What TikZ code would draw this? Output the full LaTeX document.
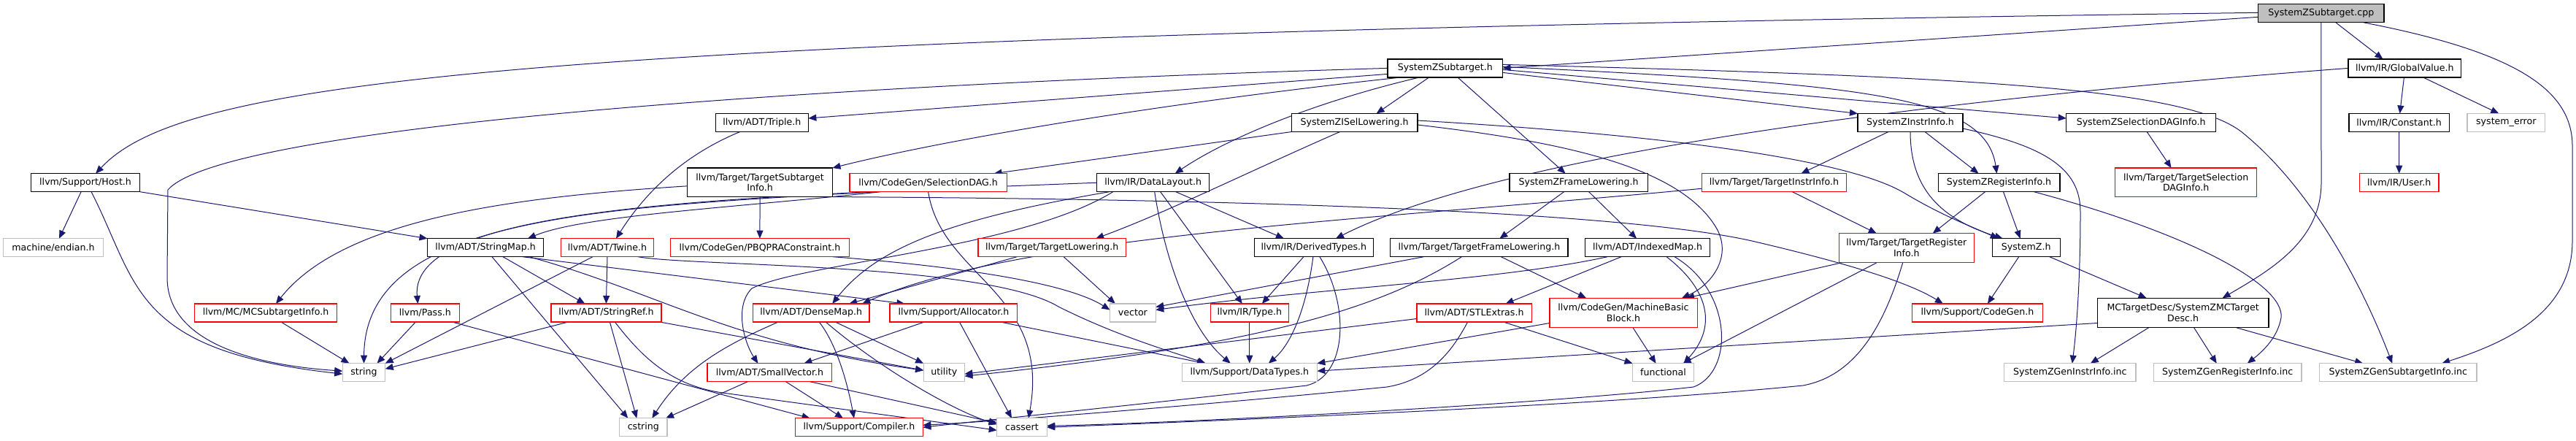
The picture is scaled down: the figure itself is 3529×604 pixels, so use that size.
\documentclass[tikz,border=0pt]{standalone}
\usepackage{fontspec}
\setmainfont{DejaVu Sans}
\usetikzlibrary{arrows.meta}
\definecolor{edgeblue}{HTML}{191970}
\definecolor{grayborder}{HTML}{BFBFBF}
\newcommand\dxfont{\fontsize{12.6bp}{14.6bp}\selectfont}
\pgfdeclarelayer{bg}
\pgfsetlayers{bg,main}
\begin{document}
\begin{tikzpicture}[x=1bp,y=-1bp,
  box/.style={rectangle, inner sep=0pt, outer sep=0pt, minimum height=25bp, line width=1.25bp, font=\dxfont, align=center, fill=white},
  blk/.style={box, draw=black},
  rbox/.style={box, draw=red},
  gbox/.style={box, draw=grayborder},
  dep/.style={draw=edgeblue, line width=1bp, -{Triangle[length=11bp,width=9bp]}}
]
\useasboundingbox (0,0) rectangle (3529,604);
% row 0
\node[blk, fill={rgb,255:red,191;green,191;blue,191}, minimum width=172.2bp] (cpp) at (3179.8,18.3) {SystemZSubtarget.cpp};
% row 1
\node[blk, minimum width=157.5bp] (szst) at (1979.8,93.4) {SystemZSubtarget.h};
\node[blk, minimum width=154.8bp] (gv) at (3294.4,93.4) {llvm/IR/GlobalValue.h};
% row 2
\node[blk, minimum width=127.1bp] (triple) at (1043.8,168) {llvm/ADT/Triple.h};
\node[blk, minimum width=172.5bp] (isel) at (1855.6,168) {SystemZISelLowering.h};
\node[blk, minimum width=144.1bp] (instr) at (2617,168) {SystemZInstrInfo.h};
\node[blk, minimum width=204.8bp] (seldaginfo) at (2933.2,168) {SystemZSelectionDAGInfo.h};
\node[blk, minimum width=137.5bp] (constant) at (3286.6,168) {llvm/IR/Constant.h};
\node[gbox, minimum width=106.7bp] (syserr) at (3433.3,168) {system\_error};
% row 3
\node[blk, minimum width=149.4bp] (host) at (117.1,250.2) {llvm/Support/Host.h};
\node[blk, minimum width=198.8bp, minimum height=39.6bp] (tsi) at (1041.1,249.8) {llvm/Target/TargetSubtarget\\Info.h};
\node[rbox, minimum width=215.2bp] (seldag) at (1271.6,250.2) {llvm/CodeGen/SelectionDAG.h};
\node[blk, minimum width=153.7bp] (dl) at (1579.7,250.2) {llvm/IR/DataLayout.h};
\node[blk, minimum width=189.5bp] (frame) at (2162.6,250.2) {SystemZFrameLowering.h};
\node[rbox, minimum width=197.5bp] (tii) at (2430.4,250.2) {llvm/Target/TargetInstrInfo.h};
\node[blk, minimum width=166.8bp] (reginfo) at (2738.5,250.2) {SystemZRegisterInfo.h};
\node[rbox, minimum width=193.6bp, minimum height=39.6bp] (tsdi) at (2994.6,249.8) {llvm/Target/TargetSelection\\DAGInfo.h};
\node[rbox, minimum width=108.6bp] (user) at (3286.7,250.2) {llvm/IR/User.h};
% row 4
\node[gbox, minimum width=136.8bp] (endian) at (73,339.2) {machine/endian.h};
\node[blk, minimum width=159bp] (smap) at (665,339.2) {llvm/ADT/StringMap.h};
\node[rbox, minimum width=127.1bp] (twine) at (832,339.2) {llvm/ADT/Twine.h};
\node[rbox, minimum width=244.6bp] (pbqp) at (1040.9,339.2) {llvm/CodeGen/PBQPRAConstraint.h};
\node[rbox, minimum width=202.6bp] (tl) at (1441.2,339.2) {llvm/Target/TargetLowering.h};
\node[blk, minimum width=162.8bp] (dt) at (1799.9,339.2) {llvm/IR/DerivedTypes.h};
\node[blk, minimum width=243.1bp] (tfl) at (2026.4,339.2) {llvm/Target/TargetFrameLowering.h};
\node[blk, minimum width=171.4bp] (imap) at (2257.1,339.2) {llvm/ADT/IndexedMap.h};
\node[rbox, minimum width=185.3bp, minimum height=39.7bp] (tri) at (2611.8,339.5) {llvm/Target/TargetRegister\\Info.h};
\node[blk, minimum width=93.2bp] (sz) at (2775.7,339.2) {SystemZ.h};
% row 5
\node[rbox, minimum width=194.9bp] (mcsti) at (364,428.5) {llvm/MC/MCSubtargetInfo.h};
\node[rbox, minimum width=93.9bp] (pass) at (582.4,428.5) {llvm/Pass.h};
\node[rbox, minimum width=151bp] (sref) at (830.4,428.5) {llvm/ADT/StringRef.h};
\node[rbox, minimum width=159.5bp] (dmap) at (1111.2,428.5) {llvm/ADT/DenseMap.h};
\node[rbox, minimum width=174.9bp] (alloc) at (1306.4,428.5) {llvm/Support/Allocator.h};
\node[gbox, minimum width=62.8bp] (vector) at (1551.9,428.5) {vector};
\node[rbox, minimum width=106.8bp] (type) at (1711.8,428.5) {llvm/IR/Type.h};
\node[rbox, minimum width=157.2bp] (stle) at (2019.6,428.5) {llvm/ADT/STLExtras.h};
\node[rbox, minimum width=202.2bp, minimum height=40.5bp] (mbb) at (2224,428.5) {llvm/CodeGen/MachineBasic\\Block.h};
\node[rbox, minimum width=179.1bp] (cg) at (2708.9,428.5) {llvm/Support/CodeGen.h};
\node[blk, minimum width=234.9bp, minimum height=40.5bp] (mctd) at (2990.6,428.5) {MCTargetDesc/SystemZMCTarget\\Desc.h};
% row 6
\node[gbox, minimum width=58.5bp] (string) at (498.5,510.2) {string};
\node[rbox, minimum width=170.7bp] (svec) at (1054.4,510.2) {llvm/ADT/SmallVector.h};
\node[gbox, minimum width=56.3bp] (utility) at (1293.3,510.2) {utility};
\node[gbox, minimum width=185.1bp] (dtypes) at (1711.8,510.2) {llvm/Support/DataTypes.h};
\node[gbox, minimum width=84bp] (functional) at (2278.5,510.2) {functional};
\node[gbox, minimum width=180.3bp] (geninstr) at (2835.8,510.2) {SystemZGenInstrInfo.inc};
\node[gbox, minimum width=202.6bp] (genreg) at (3051.7,510.2) {SystemZGenRegisterInfo.inc};
\node[gbox, minimum width=215.7bp] (gensub) at (3285.2,510.2) {SystemZGenSubtargetInfo.inc};
% row 7
\node[gbox, minimum width=65.5bp] (cstring) at (881.3,585.3) {cstring};
\node[rbox, minimum width=174.8bp] (compiler) at (1177,585.3) {llvm/Support/Compiler.h};
\node[gbox, minimum width=68.6bp] (cassert) at (1400,585.3) {cassert};

\begin{pgfonlayer}{bg}
\fill[white] (0,0) rectangle (3529,604);
% cpp
\draw[dep] ([yshift=-5bp]cpp.west) -- (szst.east);
\draw[dep] ([yshift=1bp]cpp.west) .. controls (700,50) and (250,110) .. ([xshift=14bp]host.north);
\draw[dep] ([xshift=20bp]cpp.south) -- ([xshift=-30bp]gv.north);
\draw[dep] (cpp.south) -- (3180,250) .. controls (3180,330) and (3110,370) .. ([xshift=54bp]mctd.north);
\draw[dep] ([xshift=58bp]cpp.south) .. controls (3440,70) and (3524,120) .. (3524,200) -- (3524,330) .. controls (3524,430) and (3430,470) .. ([xshift=60bp]gensub.north);
% SystemZSubtarget.h
\draw[dep] ([yshift=-8bp]szst.west) -- ([yshift=6bp]triple.east);
\draw[dep] ([xshift=-60bp]szst.south) .. controls (1600,140) and (1300,190) .. (tsi.north east);
\draw[dep] (szst.west) .. controls (1000,120) and (300,180) .. (230,260) -- (229,380) .. controls (229,470) and (350,500) .. ([yshift=2bp]string.west);
\draw[dep] ([xshift=-35bp]szst.south) .. controls (1800,140) and (1680,190) .. ([xshift=30bp]dl.north);
\draw[dep] ([xshift=-22bp]szst.south) -- ([xshift=30bp]isel.north);
\draw[dep] ([xshift=17bp]szst.south) -- ([xshift=-18bp]frame.north);
\draw[dep] ([yshift=-6bp]szst.east) -- (instr.north west);
\draw[dep] ([yshift=-2bp]szst.east) -- ([yshift=6bp]seldaginfo.west);
\draw[dep] ([yshift=2bp]szst.east) .. controls (2550,115) and (2720,130) .. ([xshift=-3bp]reginfo.north);
\draw[dep] ([yshift=5bp]szst.east) .. controls (2700,105) and (2990,120) .. (3070,180) .. controls (3170,260) and (3240,400) .. ([xshift=-8bp]gensub.north);
% GlobalValue
\draw[dep] (gv.west) .. controls (2600,140) and (2050,215) .. ([xshift=30bp]dt.north);
\draw[dep] ([xshift=-1bp]gv.south) -- ([xshift=1bp]constant.north);
\draw[dep] ([xshift=25bp]gv.south) -- ([xshift=-10bp]syserr.north);
\draw[dep] (constant) -- (user);
% Host
\draw[dep] ([xshift=-6bp]host.south) -- ([xshift=8bp]endian.north);
\draw[dep] ([xshift=8bp]host.south) .. controls (190,390) and (180,480) .. ([yshift=-2bp]string.west);
\draw[dep] (host.south east) -- (smap.north west);
% Triple
\draw[dep] ([xshift=-30bp]triple.south) .. controls (930,215) and (880,270) .. ([xshift=12bp]twine.north);
% TargetSubtargetInfo
\draw[dep] ([yshift=-5bp]tsi.west) .. controls (700,270) and (470,300) .. ([xshift=14bp]mcsti.north);
\draw[dep] (tsi) -- (pbqp);
\draw[dep] (tsi.south east) .. controls (1600,272) and (2200,285) .. (2400,330) .. controls (2550,365) and (2620,390) .. ([xshift=-47bp]cg.north);
% SelectionDAG
\draw[dep] ([xshift=-65bp]seldag.south) .. controls (1000,285) and (800,295) .. ([xshift=58bp]smap.north);
\draw[dep] ([xshift=-70bp]seldag.south) .. controls (800,285) and (500,300) .. (string.north);
\draw[dep] (seldag.south) .. controls (1290,380) and (1440,400) .. ([xshift=9bp]cassert.north);
% DataLayout
\draw[dep] (dl.west) .. controls (1000,270) and (560,280) .. ([xshift=-10bp]pass.north);
\draw[dep] ([xshift=-60bp]dl.south) .. controls (1300,300) and (1200,340) .. ([xshift=29bp]dmap.north);
\draw[dep] ([xshift=-55bp]dl.south) .. controls (1400,340) and (1100,360) .. (1030,395) .. controls (1005,420) and (1020,470) .. ([xshift=-16bp]svec.north);
\draw[dep] ([xshift=31bp]dl.south) -- ([xshift=-41bp]dt.north);
\draw[dep] ([xshift=10bp]dl.south) -- ([xshift=-10bp]type.north);
\draw[dep] ([xshift=2bp]dl.south) .. controls (1600,380) and (1640,460) .. ([xshift=-26bp]dtypes.north);
% ISelLowering
\draw[dep] (isel.south west) -- ([xshift=90bp]seldag.north);
\draw[dep] ([xshift=-20bp]isel.south) .. controls (1700,240) and (1600,290) .. ([xshift=60bp]tl.north);
\draw[dep] ([yshift=3bp]isel.east) .. controls (2200,180) and (2520,210) .. (2610,265) .. controls (2660,295) and (2700,310) .. ([xshift=-38bp]sz.north);
\draw[dep] ([yshift=-3bp]isel.east) .. controls (2150,195) and (2300,230) .. (2350,310) .. controls (2375,350) and (2345,390) .. ([xshift=80bp]mbb.north);
% FrameLowering
\draw[dep] ([xshift=-20bp]frame.south) -- ([xshift=28bp]tfl.north);
\draw[dep] ([xshift=14bp]frame.south) -- ([xshift=-15bp]imap.north);
% TargetInstrInfo
\draw[dep] ([yshift=-8bp]tii.west) .. controls (1900,300) and (1400,320) .. ([xshift=70bp]dmap.north);
\draw[dep] ([xshift=25bp]tii.south) -- ([xshift=-41bp]tri.north);
% RegisterInfo
\draw[dep] ([xshift=-19bp]reginfo.south) -- ([xshift=36bp]tri.north);
\draw[dep] ([xshift=6bp]reginfo.south) -- ([xshift=-8bp]sz.north);
\draw[dep] ([xshift=48bp]reginfo.south) .. controls (3000,320) and (3130,390) .. (3125,435) .. controls (3120,465) and (3095,485) .. ([xshift=27bp]genreg.north);
% InstrInfo
\draw[dep] ([xshift=-30bp]instr.south) -- ([xshift=37bp]tii.north);
\draw[dep] ([xshift=20bp]instr.south) -- ([xshift=-28bp]reginfo.north);
\draw[dep] (instr.south) .. controls (2617,260) and (2660,300) .. ([xshift=-32bp]sz.north);
\draw[dep] ([yshift=-8bp]instr.east) .. controls (2800,200) and (2850,230) .. (2850,290) .. controls (2850,380) and (2845,450) .. ([xshift=3bp]geninstr.north);
% SelectionDAGInfo
\draw[dep] ([xshift=8bp]seldaginfo.south) -- ([xshift=-20bp]tsdi.north);
% TargetRegisterInfo
\draw[dep] ([xshift=-87bp]tri.south) -- ([xshift=-15bp]mbb.north east);
\draw[dep] ([xshift=-40bp]tri.south) -- ([xshift=27bp]functional.north);
\draw[dep] ([xshift=-5bp]tri.south) .. controls (2580,450) and (2540,515) .. (2470,528) .. controls (2200,555) and (1700,575) .. (cassert.east);
% SystemZ.h
\draw[dep] ([xshift=-10bp]sz.south) -- ([xshift=14bp]cg.north);
\draw[dep] ([xshift=32bp]sz.south) -- ([xshift=-50bp]mctd.north);
% MCTargetDesc
\draw[dep] ([yshift=-14bp]mctd.west) -- ([yshift=2bp]dtypes.east);
\draw[dep] ([xshift=-47bp]mctd.south) -- ([xshift=28bp]geninstr.north);
\draw[dep] ([xshift=15bp]mctd.south) -- ([xshift=-15bp]genreg.north);
\draw[dep] ([xshift=73bp]mctd.south) -- ([xshift=-48bp]gensub.north);
% MCSubtargetInfo, Pass
\draw[dep] ([xshift=21bp]mcsti.south) -- ([xshift=-20bp]string.north);
\draw[dep] ([xshift=-13bp]pass.south) -- ([xshift=18bp]string.north);
\draw[dep] ([xshift=-10bp]pass.south east) -- ([xshift=20bp]compiler.north west);
% StringMap
\draw[dep] ([xshift=9bp]smap.south) -- ([xshift=-21bp]cstring.north);
\draw[dep] ([xshift=24bp]smap.south) -- ([xshift=-29bp]sref.north);
\draw[dep] ([xshift=51bp]smap.south) -- ([xshift=-67bp]alloc.north);
\draw[dep] ([xshift=60bp]smap.south) .. controls (900,400) and (1000,470) .. ([yshift=3bp]utility.west);
% Twine
\draw[dep] (twine.south) -- (sref.north);
\draw[dep] ([xshift=-20bp]twine.south) -- (string.north east);
\draw[dep] ([xshift=42bp]twine.south) .. controls (950,365) and (1350,360) .. (1450,420) .. controls (1530,460) and (1600,480) .. ([xshift=-60bp]dtypes.north);
% PBQP
\draw[dep] ([xshift=100bp]pbqp.south) .. controls (1250,360) and (1450,380) .. ([yshift=4bp]vector.west);
% TargetLowering
\draw[dep] ([xshift=-48bp]tl.south) -- ([xshift=52bp]dmap.north);
\draw[dep] ([xshift=16bp]tl.south) -- ([xshift=-24bp]vector.north);
% StringRef
\draw[dep] ([xshift=5bp]sref.south) -- ([xshift=-9bp]cstring.north);
\draw[dep] ([xshift=-52bp]sref.south) -- ([yshift=5bp]string.east);
\draw[dep] ([xshift=-2bp]sref.south east) -- ([yshift=3bp]utility.west);
\draw[dep] ([xshift=12bp]sref.south) .. controls (880,490) and (920,528) .. (990,538) .. controls (1150,560) and (1300,580) .. ([yshift=-4bp]cassert.west);
% DenseMap
\draw[dep] ([xshift=-45bp]dmap.south) .. controls (1000,470) and (940,500) .. ([xshift=12bp]cstring.north);
\draw[dep] ([xshift=11bp]dmap.south) .. controls (1145,470) and (1160,520) .. ([xshift=-7bp]compiler.north);
\draw[dep] ([xshift=20bp]dmap.south) .. controls (1200,500) and (1300,560) .. ([yshift=4bp]cassert.west);
\draw[dep] ([xshift=33bp]dmap.south) -- (utility.north west);
% Allocator
\draw[dep] ([xshift=-40bp]alloc.south) -- ([xshift=47bp]svec.north);
\draw[dep] ([xshift=8bp]alloc.south) -- ([xshift=-14bp]cassert.north);
\draw[dep] ([xshift=64bp]alloc.south) -- ([xshift=-61bp]dtypes.north);
% Type, DerivedTypes
\draw[dep] (type) -- (dtypes);
\draw[dep] ([xshift=-14bp]dt.south) -- ([xshift=17bp]type.north);
\draw[dep] ([xshift=-1bp]dt.south) .. controls (1790,420) and (1770,470) .. ([xshift=26bp]dtypes.north);
\draw[dep] ([xshift=8bp]dt.south) .. controls (1850,420) and (1845,515) .. (1790,528) .. controls (1600,550) and (1400,570) .. (compiler.east);
% STLExtras
\draw[dep] ([xshift=-9bp]stle.south) .. controls (1990,480) and (1960,520) .. (1900,530) .. controls (1700,550) and (1400,575) .. ([yshift=3bp]compiler.east);
\draw[dep] ([yshift=-8bp]stle.west) -- ([yshift=-2bp]utility.east);
\draw[dep] ([xshift=40bp]stle.south) -- (functional.north west);
% MachineBasicBlock
\draw[dep] ([xshift=13bp]mbb.south) -- ([xshift=-10bp]functional.north);
\draw[dep] ([yshift=-14bp]mbb.west) -- (dtypes.north east);
% TargetFrameLowering
\draw[dep] ([xshift=-76bp]tfl.south) -- ([yshift=8bp]vector.east);
\draw[dep] ([xshift=-24bp]tfl.south) .. controls (1880,430) and (1700,475) .. ([yshift=-5bp]utility.east);
\draw[dep] ([xshift=30bp]tfl.south) -- ([xshift=-51bp]mbb.north);
% IndexedMap
\draw[dep] ([xshift=-55bp]imap.south) .. controls (2050,385) and (1800,395) .. ([yshift=4bp]vector.east);
\draw[dep] ([xshift=-36bp]imap.south) -- ([xshift=43bp]stle.north);
\draw[dep] ([xshift=26bp]imap.south) .. controls (2345,400) and (2350,450) .. ([xshift=28bp]functional.north);
\draw[dep] ([xshift=37bp]imap.south) .. controls (2375,400) and (2375,510) .. (2320,530) .. controls (2100,555) and (1600,580) .. ([yshift=2bp]cassert.east);
% SmallVector
\draw[dep] ([xshift=-30bp]svec.south) -- ([xshift=-2bp]cstring.north east);
\draw[dep] ([xshift=22bp]svec.south) -- ([xshift=-22bp]compiler.north);
\draw[dep] ([xshift=55bp]svec.south) -- ([yshift=6bp]cassert.west);
\end{pgfonlayer}
\end{tikzpicture}
\end{document}
